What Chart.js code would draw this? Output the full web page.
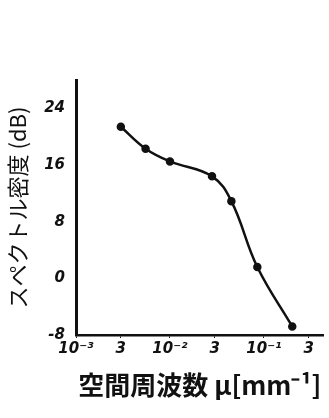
<!DOCTYPE html>
<html>
<head>
<meta charset="utf-8">
<script src="https://cdn.jsdelivr.net/npm/chart.js@4"></script>
<style>
  html, body { margin: 0; padding: 0; background: #fff; }
  #wrap { width: 329px; height: 418px; }
</style>
</head>
<body>
<div id="wrap"><canvas id="specChart"></canvas></div>
<script>
// spatial frequency (mm^-1) vs spectral density (dB)
const freqs = [0.003, 0.0055, 0.01, 0.028, 0.045, 0.085, 0.2];
const density = [21.4, 18.3, 16.5, 14.4, 10.9, 1.6, -6.8];

const xTickValues = [0.001, 0.003, 0.01, 0.03, 0.1, 0.3];
const xTickLabels = ["10⁻³", "3", "10⁻²", "3", "10⁻¹", "3"];
const yTickValues = [-8, 0, 8, 16, 24];

const ink = "#111";

const ctx = document.getElementById("specChart").getContext("2d");
new Chart(ctx, {
  type: "line",
  data: {
    datasets: [
      {
        data: freqs.map((f, i) => ({ x: f, y: density[i] })),
        borderColor: ink,
        backgroundColor: ink,
        borderWidth: 2.5,
        pointRadius: 3,
        pointHoverRadius: 3,
        tension: 0.4,
        fill: false,
      },
    ],
  },
  options: {
    responsive: true,
    maintainAspectRatio: false,
    animation: false,
    layout: { padding: { top: 80, right: 1, left: 0, bottom: 0 } },
    plugins: {
      legend: { display: false },
      tooltip: { enabled: false },
    },
    scales: {
      x: {
        type: "logarithmic",
        min: 0.001,
        max: 0.43,
        afterBuildTicks: (scale) => {
          scale.ticks = xTickValues.map((v) => ({ value: v }));
        },
        afterFit: (scale) => {
          scale.height = 83;
        },
        ticks: {
          color: ink,
          autoSkip: false,
          maxRotation: 0,
          padding: 2,
          font: { family: "DejaVu Sans", size: 15, weight: "bold", style: "italic" },
          callback: (v, i) => xTickLabels[i],
        },
        grid: { display: true, drawOnChartArea: false, drawTicks: true, tickLength: 3, color: ink },
        border: { display: true, color: ink, width: 2.5 },
        title: {
          display: true,
          text: "空間周波数 μ[mm⁻¹]",
          color: ink,
          font: { family: "Noto Sans CJK JP", size: 26, weight: "bold" },
          padding: { top: 0, bottom: 17 },
        },
      },
      y: {
        min: -8,
        max: 28,
        afterBuildTicks: (scale) => {
          scale.ticks = yTickValues.map((v) => ({ value: v }));
        },
        afterFit: (scale) => {
          scale.width = 76;
        },
        ticks: {
          color: ink,
          padding: 3,
          font: { family: "DejaVu Sans", size: 15, weight: "bold", style: "italic" },
        },
        grid: { display: false },
        border: { display: true, color: ink, width: 3 },
        title: {
          display: true,
          text: "スペクトル密度 (dB)",
          color: ink,
          font: { family: "Noto Sans CJK JP", size: 22 },
          padding: { bottom: 0 },
        },
      },
    },
  },
});
</script>
</body>
</html>
